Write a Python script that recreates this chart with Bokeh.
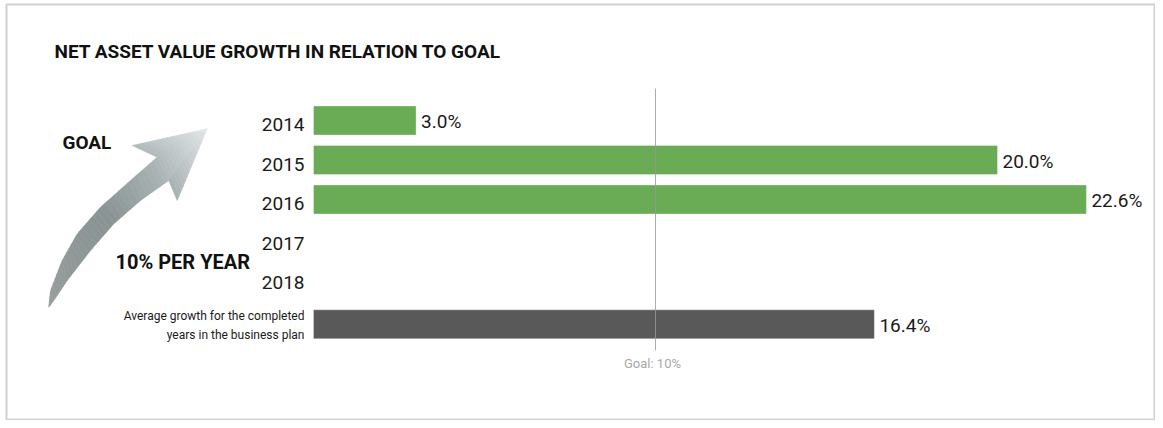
import numpy as np
from bokeh.plotting import figure
from bokeh.models import Range1d, ColumnDataSource
from bokeh.core.properties import value
from bokeh.embed import file_html
from bokeh.resources import INLINE

# ---------------- data ----------------
title = "NET ASSET VALUE GROWTH IN RELATION TO GOAL"
years = ["2014", "2015", "2016", "2017", "2018"]
growth = [3.0, 20.0, 22.6, None, None]
avg_label = "Average growth for the completed\nyears in the business plan"
avg_growth = 16.4
goal = 10.0
goal_label = "Goal: 10%"
side_top = "GOAL"
side_bottom = "10% PER YEAR"

# ---------------- layout / style ----------------
FONT = "Roboto"
W, H = 1155, 420
BL, BT = 6, 4          # inset of the framed box
ZERO_PX = 313.0
PX_PER_PCT = 34.2
ROW0_PX = 120.0
ROW_PX = 39.5
AVG_GAP = 0.16
GREEN = "#6aac55"
DARK = "#595959"
INK = "#1a1a1a"


def dx(px):
    return (px - ZERO_PX) / PX_PER_PCT


def dy(py):
    return (py - ROW0_PX) / ROW_PX


p = figure(width=W, height=H,
           x_range=Range1d(dx(BL), dx(W)),
           y_range=Range1d(dy(H), dy(BT)),
           output_backend="svg", toolbar_location=None,
           x_axis_location=None, y_axis_location=None,
           min_border_left=BL, min_border_top=BT,
           min_border_right=0, min_border_bottom=0)
p.grid.visible = False
p.outline_line_color = "#d2d2d2"
p.outline_line_width = 2
p.background_fill_color = "white"
p.border_fill_color = "white"

# ---------------- rows ----------------
rows = list(range(len(years))) + [len(years) + AVG_GAP]
vals = growth + [avg_growth]
colors = [GREEN] * len(years) + [DARK]

bar_rows = [r for r, v in zip(rows, vals) if v is not None]
bar_vals = [v for v in vals if v is not None]
bar_cols = [c for c, v in zip(colors, vals) if v is not None]
bars = ColumnDataSource(dict(y=bar_rows, right=bar_vals, color=bar_cols,
                             txt=[f"{v:.1f}%" for v in bar_vals]))

p.hbar(y="y", left=0, right="right", height=29 / ROW_PX, fill_color="color",
       line_color="white", line_alpha=0.35, line_width=1, source=bars)

# goal line
p.segment(x0=[goal], x1=[goal], y0=[dy(88)], y1=[dy(350)],
          line_color="#999999", line_alpha=0.8, line_width=1)

# value labels
p.text(x="right", y="y", text="txt", source=bars, x_offset=5, y_offset=1,
       text_font=value(FONT), text_font_size="19px", text_color=INK,
       text_align="left", text_baseline="middle")

# year labels
p.text(x=[0] * len(years), y=rows[:len(years)], text=years, x_offset=-9, y_offset=4,
       text_font=value(FONT), text_font_size="19px", text_color=INK,
       text_align="right", text_baseline="middle")

# average label
p.text(x=[0], y=[rows[-1]], text=[avg_label], x_offset=-9, y_offset=1,
       text_font=value(FONT), text_font_size="12px", text_color=INK,
       text_align="right", text_baseline="middle", text_line_height=1.4)

# goal label
p.text(x=[goal], y=[dy(363)], text=[goal_label], x_offset=-3,
       text_font=value(FONT), text_font_size="13px", text_color="#a8a8a8",
       text_align="center", text_baseline="middle")

# title & side texts
p.text(x=[dx(54)], y=[dy(51)], text=[title], text_font=value(FONT),
       text_font_size="19px", text_font_style="bold", text_color="#111111",
       text_align="left", text_baseline="middle")
p.text(x=[dx(62)], y=[dy(142)], text=[side_top], text_font=value(FONT),
       text_font_size="19px", text_font_style="bold", text_color="#111111",
       text_align="left", text_baseline="middle")
p.text(x=[dx(115)], y=[dy(261)], text=[side_bottom], text_font=value(FONT),
       text_font_size="20px", text_font_style="bold", text_color="#111111",
       text_align="left", text_baseline="middle")

# ---------------- decorative gradient arrow ----------------
upper = np.array([(156.7, 156.7), (130, 180), (100, 206.7), (76.7, 233.3),
                  (61.7, 260), (50, 290), (48.3, 306.7)])
lower = np.array([(168.3, 180), (140, 200), (113.3, 223.3), (90, 250),
                  (66.7, 280), (53.3, 300), (48.3, 306.7)])
tip = np.array([206.7, 128.3])
barb_l = np.array([131.7, 145.0])
barb_r = np.array([176.7, 200.0])

g0 = np.array([48.0, 307.0])
g1 = tip
stops_t = [0.0, 0.45, 0.72, 1.0]
stops_c = [(0x96, 0x9d, 0x9d), (0x89, 0x93, 0x93), (0xa9, 0xb2, 0xb4), (0xe2, 0xe7, 0xe9)]


def grad_color(pt):
    d = g1 - g0
    t = float(np.clip(np.dot(pt - g0, d) / np.dot(d, d), 0, 1))
    rgb = [int(round(np.interp(t, stops_t, [c[i] for c in stops_c]))) for i in range(3)]
    return "#%02x%02x%02x" % tuple(rgb)


def resample(poly, n):
    s = np.linspace(0, len(poly) - 1, n)
    return np.array([np.interp(s, np.arange(len(poly)), poly[:, k]) for k in range(2)]).T


polys = []
U = resample(upper, 40)
L = resample(lower, 40)
for i in range(len(U) - 1):
    polys.append(np.array([U[i], U[i + 1], L[i + 1], L[i]]))

for a, b in [(barb_l, upper[0]), (upper[0], lower[0]), (lower[0], barb_r)]:
    ss = np.linspace(0, 1, 16)
    for k in range(len(ss) - 1):
        s0, s1 = ss[k], ss[k + 1]
        polys.append(np.array([a + (tip - a) * s0, a + (tip - a) * s1,
                               b + (tip - b) * s1, b + (tip - b) * s0]))

xs = [[dx(px) for px in poly[:, 0]] for poly in polys]
ys = [[dy(py) for py in poly[:, 1]] for poly in polys]
cols = [grad_color(poly.mean(axis=0)) for poly in polys]
p.patches(xs=xs, ys=ys, fill_color=cols, line_color=cols, line_width=0.6)

open("out.html", "w").write(file_html(p, INLINE))
